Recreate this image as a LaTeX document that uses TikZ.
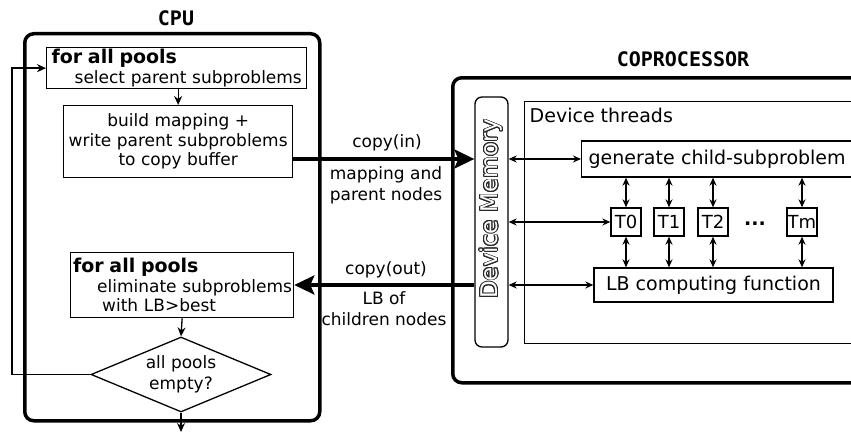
\documentclass[tikz,border=0pt]{standalone}
\usepackage{fontspec}
\setmainfont{DejaVu Sans}
\setmonofont{DejaVu Sans Mono}
\usepackage{contour}
\usetikzlibrary{shapes.geometric,arrows.meta}
\contourlength{0.8pt}
\begin{document}
\begin{tikzpicture}[x=1pt, y=-1pt,
	title/.style = {font=\ttfamily\bfseries\fontsize{20}{24}\selectfont},
	frame/.style = {draw, line width=3.5pt, rounded corners=9pt, inner sep=0pt},
	cbox/.style = {draw, line width=1.3pt, inner sep=0pt, font=\fontsize{17}{19.5}\selectfont},
	dbox/.style = {draw, line width=1.3pt, inner sep=0pt, font=\fontsize{19}{22}\selectfont},
	lbl/.style = {font=\fontsize{17}{21}\selectfont, align=center, inner sep=0pt},
	arr/.style = {line width=1.3pt, -{Stealth[length=9pt, width=8pt]}},
	darr/.style = {line width=1.3pt, {Stealth[length=8pt, width=7pt]}-{Stealth[length=8pt, width=7pt]}},
	bigarr/.style = {line width=3.5pt, -{Stealth[length=20pt, width=19pt, inset=4pt]}}]
	\useasboundingbox (0,0) rectangle (851,436);
	\node (cputitle) at (176,18)	[title]	{CPU};
	\node (coptitle) at (683,59)	[title]	{COPROCESSOR};
	\node (cpu) at (23,32)	[frame, anchor=north west, minimum width=295, minimum height=387]	{};
	\node (cop) at (451,76)	[frame, anchor=north west, minimum width=440, minimum height=305]	{};
	\node (select) at (46,47)	[cbox, anchor=north west, minimum width=260, minimum height=41, text width=250, align=left]
		{\mbox{\fontsize{19}{19}\selectfont\bfseries for all pools}\\\mbox{\hspace*{23pt}select parent subproblems}};
	\node (build) at (63,105)	[cbox, anchor=north west, minimum width=229, minimum height=72, align=center]
		{build mapping +\\write parent subproblems\\to copy buffer};
	\node (elim) at (70,252)	[cbox, anchor=north west, minimum width=223, minimum height=65, text width=218, align=left]
		{\mbox{\fontsize{19}{19}\selectfont\bfseries for all pools}\\\mbox{\hspace*{24pt}eliminate subproblems}\\\mbox{\hspace*{29pt}with LB>best}};
	\node (empty) at (181,374.5)	[draw, diamond, line width=1.3pt, inner sep=0pt, aspect=2.4, minimum width=180, minimum height=75, align=center, font=\fontsize{17}{21}\selectfont]
		{all pools\\empty?};
	\coordinate (out) at (181,432);
	\node (mem) at (491.5,222)	[draw, line width=1.3pt, rounded corners=7pt, minimum width=33, minimum height=250, inner sep=0pt]	{};
	\node (memtext) at (491.5,209)	[rotate=90, inner sep=0pt, font=\fontsize{23}{26}\selectfont]
		{\contour{black!85}{\textcolor{white}{Device Memory}}};
	\node (threads) at (524,101)	[dbox, anchor=north west, minimum width=360, minimum height=242]	{};
	\node (thrtext) at (529.5,115)	[anchor=west, inner sep=0pt, font=\fontsize{19}{22}\selectfont]	{Device threads};
	\node (gen) at (581,159)	[dbox, anchor=west, minimum width=300, minimum height=36, text width=286, inner xsep=7pt, align=left]
		{\mbox{generate child-subproblem}};
	\node (t0) at (626,222)	[dbox, minimum width=30, minimum height=28, font=\fontsize{18}{20}\selectfont]	{T0};
	\node (t1) at (669,222)	[dbox, minimum width=30, minimum height=28, font=\fontsize{18}{20}\selectfont]	{T1};
	\node (t2) at (713,222)	[dbox, minimum width=30, minimum height=28, font=\fontsize{18}{20}\selectfont]	{T2};
	\node (tm) at (802,222)	[dbox, minimum width=30, minimum height=28, font=\fontsize{18}{20}\selectfont]	{Tm};
	\node (dots) at (755,224)	[inner sep=0pt, font=\fontsize{19}{22}\selectfont\bfseries]	{...};
	\node (lb) at (713.5,285)	[dbox, minimum width=239, minimum height=34]	{LB computing function};
	\node (cin) at (387,143)	[lbl]	{copy(in)};
	\node (cinx) at (386,185.5)	[lbl]	{mapping and\\parent nodes};
	\node (cout) at (386,270)	[lbl]	{copy(out)};
	\node (coutx) at (384,308.5)	[lbl]	{LB of\\children nodes};
	\draw[arr] (select.south -| build.north) -- (build.north);
	\draw[arr] (elim.south) -- (empty.north);
	\draw[arr] (empty.south) -- (out);
	\draw[arr] (empty.west) -- (empty.west -| 12,0) |- (select.west);
	\draw[bigarr] (build.east |- gen.west) -- (mem.west |- gen.west);
	\draw[bigarr] (mem.west |- lb.west) -- (elim.east |- lb.west);
	\draw[darr] (mem.east |- gen.west) -- (gen.west);
	\draw[darr] (mem.east |- t0.west) -- (t0.west);
	\draw[darr] (mem.east |- lb.west) -- (lb.west);
	\foreach \t in {t0,t1,t2,tm} {
		\draw[darr] (\t.north |- gen.south) -- (\t.north);
		\draw[darr] (\t.south) -- (\t.south |- lb.north);
	}
\end{tikzpicture}
\end{document}
